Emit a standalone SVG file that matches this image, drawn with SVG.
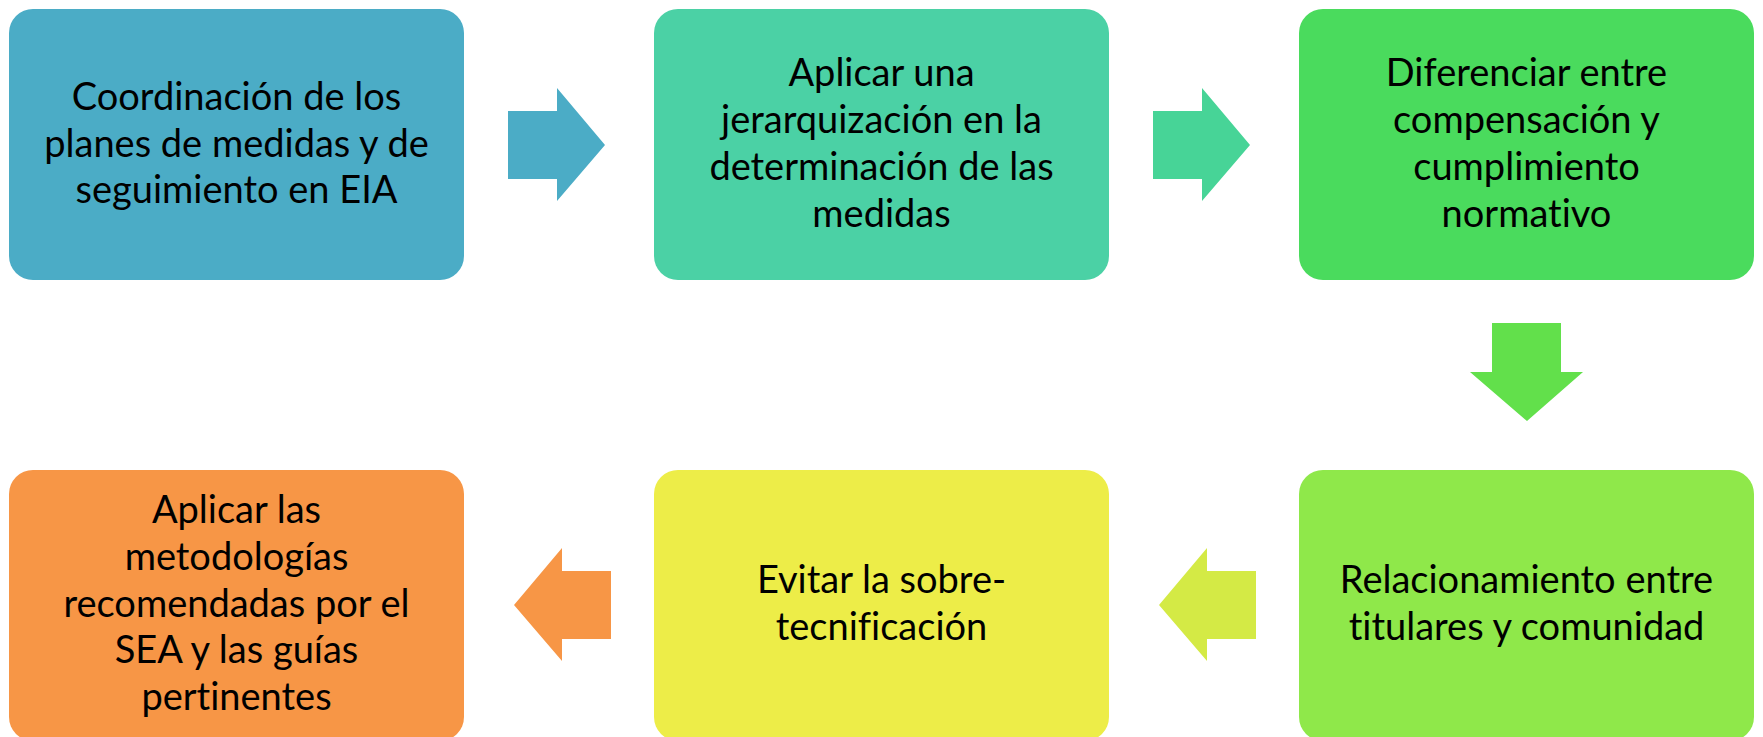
<svg xmlns="http://www.w3.org/2000/svg" width="1763" height="737" viewBox="0 0 1763 737">
<style>
.box{stroke:none}
.t{font-family:Lato,"Open Sans","Liberation Sans",sans-serif;font-size:38px;fill:#000;text-anchor:middle;font-variant-ligatures:none}
</style>
<rect width="1763" height="737" fill="#fff"/>
<g id="connectors">
<polygon points="508,111 557,111 557,88 605,145 557,201 557,179 508,179" fill="#4BACC6"/>
<polygon points="1153,111 1202,111 1202,88 1250,145 1202,201 1202,179 1153,179" fill="#47D497"/>
<polygon points="1492,323 1561,323 1561,372 1583,372 1527,421 1470,372 1492,372" fill="#62E04B"/>
<polygon points="1256,571 1207,571 1207,548 1159,605 1207,661 1207,639 1256,639" fill="#D4EA45"/>
<polygon points="611,571 562,571 562,548 514,605 562,661 562,639 611,639" fill="#F79646"/>
</g>
<g id="node1">
<rect class="box" x="9" y="9" width="455" height="271" rx="24" fill="#4BACC6"/>
<text class="t"><tspan x="236.5" y="110">Coordinación de los</tspan><tspan x="236.5" y="157">planes de medidas y de</tspan><tspan x="236.5" y="203">seguimiento en EIA</tspan></text>
</g>
<g id="node2">
<rect class="box" x="654" y="9" width="455" height="271" rx="24" fill="#4BD1A5"/>
<text class="t"><tspan x="881.5" y="86">Aplicar una</tspan><tspan x="881.5" y="133">jerarquización en la</tspan><tspan x="881.5" y="180">determinación de las</tspan><tspan x="881.5" y="227">medidas</tspan></text>
</g>
<g id="node3">
<rect class="box" x="1299" y="9" width="455" height="271" rx="24" fill="#4ADB5D"/>
<text class="t"><tspan x="1526.5" y="86">Diferenciar entre</tspan><tspan x="1526.5" y="133">compensación y</tspan><tspan x="1526.5" y="180">cumplimiento</tspan><tspan x="1526.5" y="227">normativo</tspan></text>
</g>
<g id="node4">
<rect class="box" x="1299" y="470" width="455" height="271" rx="24" fill="#8FE84A"/>
<text class="t"><tspan x="1526.5" y="593">Relacionamiento entre</tspan><tspan x="1526.5" y="640">titulares y comunidad</tspan></text>
</g>
<g id="node5">
<rect class="box" x="654" y="470" width="455" height="271" rx="24" fill="#EDED48"/>
<text class="t"><tspan x="881.5" y="593">Evitar la sobre-</tspan><tspan x="881.5" y="640">tecnificación</tspan></text>
</g>
<g id="node6">
<rect class="box" x="9" y="470" width="455" height="271" rx="24" fill="#F79646"/>
<text class="t"><tspan x="236.5" y="523">Aplicar las</tspan><tspan x="236.5" y="570">metodologías</tspan><tspan x="236.5" y="617">recomendadas por el</tspan><tspan x="236.5" y="663">SEA y las guías</tspan><tspan x="236.5" y="710">pertinentes</tspan></text>
</g>
</svg>
